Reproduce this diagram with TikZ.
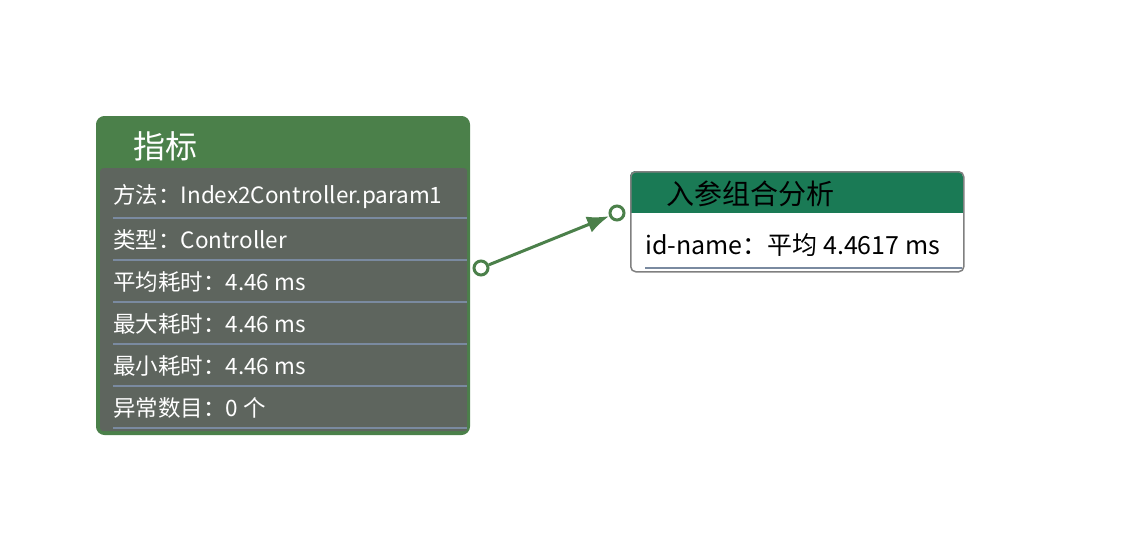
\documentclass[tikz,border=0pt]{standalone}
\usepackage{fontspec}
\setmainfont{Noto Sans CJK SC}
\usetikzlibrary{arrows.meta,positioning}
\definecolor{metricgreen}{HTML}{4B804A}
\definecolor{bodygray}{HTML}{5E655E}
\definecolor{sepblue}{HTML}{7A8AA0}
\definecolor{hdrgreen}{HTML}{1A7A55}
\definecolor{framegray}{HTML}{808080}

\begin{document}
\begin{tikzpicture}[
  x=1pt, y=-1pt,
  >={Latex[length=22pt,width=17pt]},
  row/.style={anchor=west, inner sep=0pt, font=\fontsize{22.5}{26}\selectfont},
  sep/.style={sepblue, line width=1.5pt},
  port/.style={circle, draw=metricgreen, fill=white, line width=3pt, minimum size=14pt, inner sep=0pt},
  link/.style={->, metricgreen, line width=3pt},
]
\useasboundingbox (0,0) rectangle (1147,533);

%------------------- Left: metric card -------------------
\node (metric) [draw=metricgreen, fill=metricgreen, rounded corners=8pt, line width=1pt,
  minimum width=373pt, minimum height=318pt, anchor=north west] at (96,116) {};
\node (metrictitle) [anchor=west, inner sep=0pt, text=white, font=\fontsize{32}{36}\selectfont] at (133,146) {指标};
\node (metricbody) [fill=bodygray, rounded corners=3pt, minimum width=367pt, minimum height=263pt,
  anchor=north west, inner sep=0pt] at (100,168) {};

\node (method) [row, text=white] at (113,197) {方法：Index2Controller.param1};
\node (kind)   [row, text=white] at (113,240) {类型：Controller};
\node (avg)    [row, text=white] at (113,282) {平均耗时：4.46 ms};
\node (max)    [row, text=white] at (113,324) {最大耗时：4.46 ms};
\node (min)    [row, text=white] at (113,366) {最小耗时：4.46 ms};
\node (errs)   [row, text=white] at (113,408) {异常数目：0 个};
\foreach \y in {218,260,302,344,386,428}
  \draw[sep] (113,\y) -- (467,\y);

%------------------- Right: parameter combination card -------------------
\begin{scope}
  \clip[rounded corners=5pt] (630,171) rectangle (963,271);
  \fill[hdrgreen] (630,171) rectangle (963,213);
\end{scope}
\node (combo) [draw=framegray, rounded corners=5pt, line width=1.5pt,
  minimum width=333pt, minimum height=100pt, anchor=north west] at (630,171) {};
\node (combotitle) [anchor=west, inner sep=0pt, font=\fontsize{28}{32}\selectfont] at (666,194) {入参组合分析};
\node (idname) [row, font=\fontsize{25}{29}\selectfont] at (645,245) {id-name：平均 4.4617 ms};
\draw[sep] (645,268) -- (962,268);

%------------------- Connector -------------------
\node (src) [port] at (481,268) {};
\node (dst) [port] at (617,213) {};
\draw[link] (src) -- (dst);   % metric -> combination

\end{tikzpicture}
\end{document}
